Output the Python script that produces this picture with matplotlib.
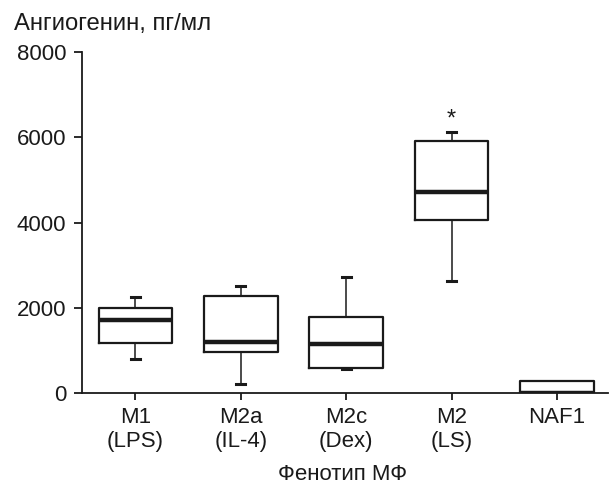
import matplotlib
matplotlib.use("Agg")
import matplotlib.pyplot as plt

plt.rcParams['font.family'] = ['Liberation Sans', 'DejaVu Sans']

categories = ["M1\n(LPS)", "M2a\n(IL-4)", "M2c\n(Dex)", "M2\n(LS)", "NAF1"]
whisker_low = [800, 200, 556, 2630, 0]
q1 = [1180, 962, 587, 4060, 0]
median = [1706, 1204, 1142, 4708, 0]
q3 = [1990, 2276, 1790, 5920, 280]
whisker_high = [2260, 2510, 2714, 6116, 280]
significance = ["", "", "", "*", ""]
yticks = [0, 2000, 4000, 6000, 8000]

stats = []
for i in range(len(categories)):
    stats.append(dict(whislo=whisker_low[i], q1=q1[i], med=median[i],
                      q3=q3[i], whishi=whisker_high[i], fliers=[], label=categories[i]))

fig = plt.figure(figsize=(6.1, 4.87), dpi=100)
ax = fig.add_axes([0.134, 0.193, 0.862, 0.7])

positions = list(range(len(categories)))
capw = [0.085 if whisker_high[i] > q3[i] or whisker_low[i] < q1[i] else 0.0
        for i in range(len(categories))]
ax.bxp(stats, positions=positions, widths=0.7, showfliers=False,
       boxprops=dict(color='#1a1a1a', linewidth=1.6),
       medianprops=dict(color='#1a1a1a', linewidth=3.2),
       whiskerprops=dict(color='#1a1a1a', linewidth=1.1),
       capprops=dict(color='#1a1a1a', linewidth=2.2),
       capwidths=capw)

for i, s in enumerate(significance):
    if s:
        ax.text(positions[i], 6420, s, ha='center', va='center', fontsize=17, color='#1a1a1a')

ax.set_xlim(-0.51, 4.48)
ax.set_ylim(0, 8000)
ax.set_yticks(yticks)
ax.set_yticklabels([str(v) for v in yticks])
ax.set_xticks(positions)
ax.set_xticklabels(categories)
ax.spines['top'].set_visible(False)
ax.spines['right'].set_visible(False)
for sp in ('left', 'bottom'):
    ax.spines[sp].set_linewidth(1.3)
    ax.spines[sp].set_color('#1a1a1a')
ax.tick_params(axis='both', labelsize=16, width=1.3, colors='#1a1a1a')
ax.tick_params(axis='y', length=6, pad=5)
ax.tick_params(axis='x', length=5, pad=5)
for lbl in ax.get_xticklabels():
    lbl.set_linespacing(1.2)

fig.text(0.023, 0.938, "Ангиогенин, пг/мл", fontsize=17.2, ha='left', va='baseline', color='#1a1a1a')
fig.text(0.562, 0.014, "Фенотип МФ", fontsize=16, ha='center', va='baseline', color='#1a1a1a')

fig.savefig("out.png", dpi=100)
